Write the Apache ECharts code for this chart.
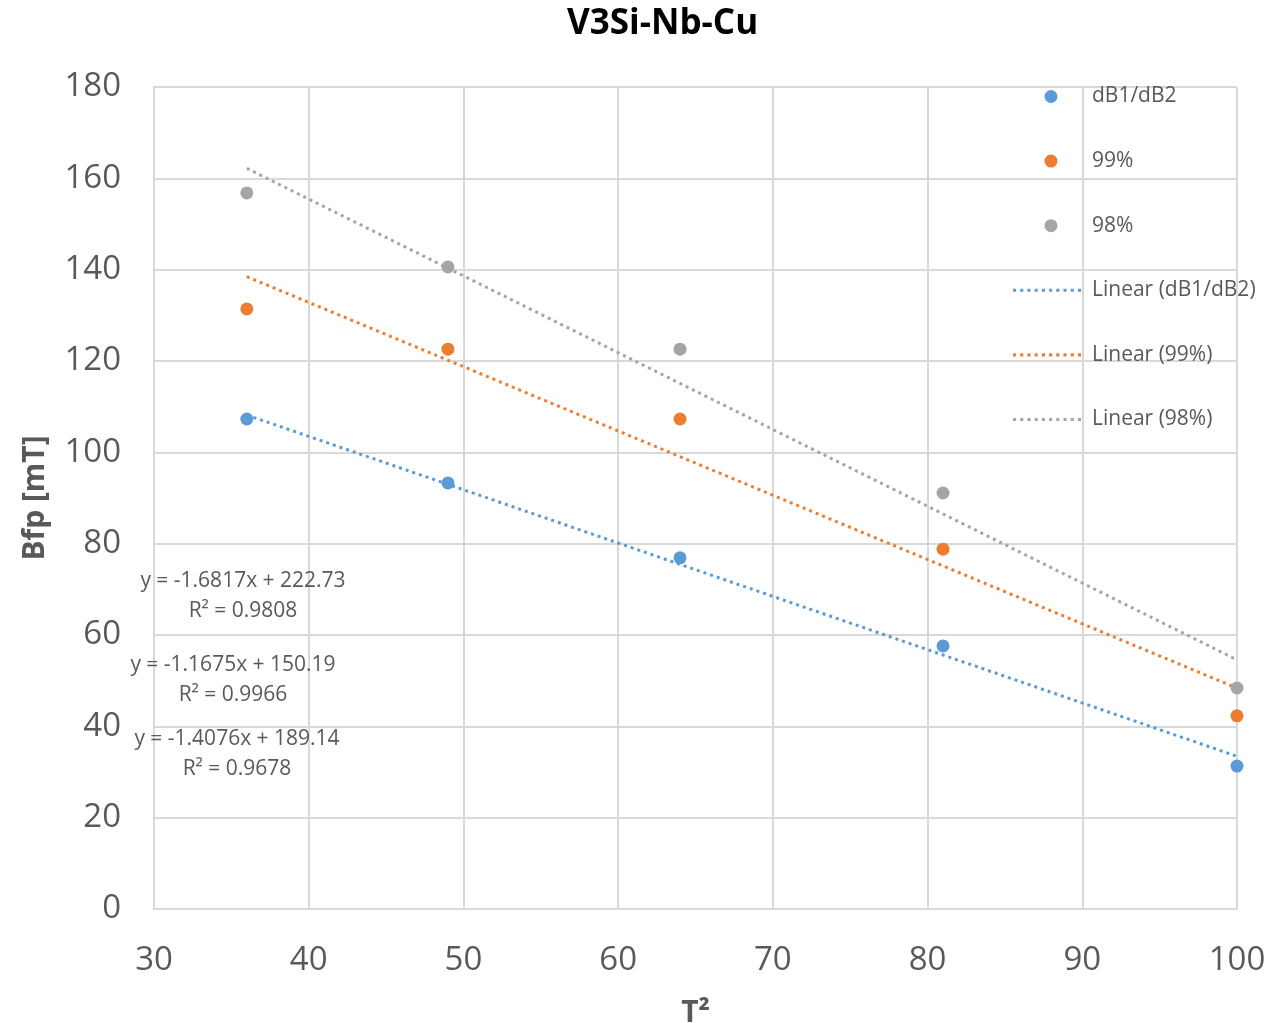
<!DOCTYPE html>
<html>
<head>
<meta charset="utf-8">
<title>V3Si-Nb-Cu</title>
<script src="https://cdn.jsdelivr.net/npm/echarts@6/dist/echarts.min.js"></script>
<style>
  html, body { margin: 0; padding: 0; background: #fff; }
  #chart { width: 1286px; height: 1023px; }
</style>
</head>
<body>
<div id="chart"></div>
<script>
// T^2 values shared by all three measurement series
const tSquared = [36, 49, 64, 81, 100];

// Bfp [mT] per criterion
const seriesNames = ['dB1/dB2', '99%', '98%'];
const valsDB = [107.3, 93.3, 76.9, 57.6, 31.3];
const vals99 = [131.4, 122.6, 107.3, 78.8, 42.3];
const vals98 = [156.8, 140.6, 122.6, 91.1, 48.4];

// Linear trendline coefficients (slope, intercept, R²) in series order
const slopes = [-1.1675, -1.4076, -1.6817];
const intercepts = [150.19, 189.14, 222.73];
const rSquared = [0.9966, 0.9678, 0.9808];

// Tick settings
const xMin = 30, xMax = 100, xStep = 10;
const yMin = 0, yMax = 180, yStep = 20;

const colors = ['#5B9BD5', '#ED7D31', '#A5A5A5'];
const textColor = '#595959';
const gridColor = '#D9D9D9';
const font = 'Open Sans';

// Legend icons: a dot placed right of centre, and a dotted stroke for trendlines.
// Zero-area anchor points pin the icon's bounding box to 68 x 14.
const dotIcon = 'path://M0,0L0,0Z M68,14L68,14Z M44.5,7A6.5,6.5 0 1 1 31.5,7A6.5,6.5 0 1 1 44.5,7Z';
const dottedIcon = 'path://' + Array.from({ length: 10 }, (_, k) => 'M' + (k * 7) + ',0h3v3h-3z').join(' ');

const allVals = [valsDB, vals99, vals98];

const scatterSeries = seriesNames.map((name, i) => ({
  name: name,
  type: 'scatter',
  symbol: 'circle',
  symbolSize: 13,
  itemStyle: { color: colors[i], opacity: 1 },
  z: 3,
  data: tSquared.map((t, k) => [t, allVals[i][k]])
}));

// Trendlines drawn across the data range from the stated equations
const xFirst = tSquared[0], xLast = tSquared[tSquared.length - 1];
const trendNames = seriesNames.map(n => 'Linear (' + n + ')');
const trendSeries = seriesNames.map((name, i) => ({
  name: trendNames[i],
  type: 'line',
  symbol: 'none',
  silent: true,
  z: 2,
  lineStyle: { color: colors[i], width: 3, type: [3, 4], cap: 'butt' },
  itemStyle: { color: colors[i] },
  data: [xFirst, xLast].map(x => [x, slopes[i] * x + intercepts[i]])
}));

function eqText(i) {
  return 'y = ' + slopes[i].toFixed(4) + 'x + ' + intercepts[i].toFixed(2) +
    '\nR² = ' + rSquared[i].toFixed(4);
}

// Trendline equation boxes (gray, blue, orange from top to bottom)
const eqLayout = [
  { idx: 2, x: 243, y: 596 },
  { idx: 0, x: 233, y: 680 },
  { idx: 1, x: 237, y: 754 }
];

const chart = echarts.init(document.getElementById('chart'), null, { renderer: 'canvas' });

chart.setOption({
  backgroundColor: '#ffffff',
  animation: false,
  title: {
    text: 'V3Si-Nb-Cu',
    left: 562,
    top: 2,
    textStyle: { fontFamily: font, fontWeight: 'bold', fontSize: 35, color: '#000000' }
  },
  grid: { left: 154, right: 49, top: 87, bottom: 114, containLabel: false, outerBoundsMode: 'none' },
  legend: {
    orient: 'vertical',
    left: 1008,
    top: 81,
    itemWidth: 68,
    itemHeight: 14,
    itemGap: 43.6,
    textStyle: { fontFamily: font, fontSize: 21, color: textColor, lineHeight: 20, padding: [0, 0, 0, 6] },
    data: seriesNames.map(n => ({ name: n, icon: dotIcon }))
      .concat(trendNames.map(n => ({ name: n, icon: dottedIcon })))
  },
  xAxis: {
    type: 'value',
    min: xMin, max: xMax, interval: xStep,
    name: 'T²',
    nameLocation: 'middle',
    nameGap: 89,
    nameTextStyle: { fontFamily: font, fontWeight: 'bold', fontSize: 30, color: textColor },
    axisLine: { show: true, lineStyle: { color: gridColor, width: 2 } },
    axisTick: { show: false },
    axisLabel: { fontFamily: font, fontSize: 33, color: textColor, margin: 35 },
    splitLine: { show: true, lineStyle: { color: gridColor, width: 2 } }
  },
  yAxis: {
    type: 'value',
    min: yMin, max: yMax, interval: yStep,
    name: 'Bfp [mT]',
    nameLocation: 'middle',
    nameGap: 104,
    nameRotate: 90,
    nameTextStyle: { fontFamily: font, fontWeight: 'bold', fontSize: 30, color: textColor },
    axisLine: { show: true, lineStyle: { color: gridColor, width: 2 } },
    axisTick: { show: false },
    axisLabel: { fontFamily: font, fontSize: 33, color: textColor, margin: 33 },
    splitLine: { show: true, lineStyle: { color: gridColor, width: 2 } }
  },
  graphic: eqLayout.map(e => ({
    type: 'text',
    x: e.x,
    y: e.y,
    z: 10,
    style: {
      text: eqText(e.idx),
      fontFamily: font,
      fontSize: 21,
      lineHeight: 30,
      fill: textColor,
      align: 'center',
      verticalAlign: 'middle'
    }
  })),
  series: scatterSeries.concat(trendSeries)
});
</script>
</body>
</html>
